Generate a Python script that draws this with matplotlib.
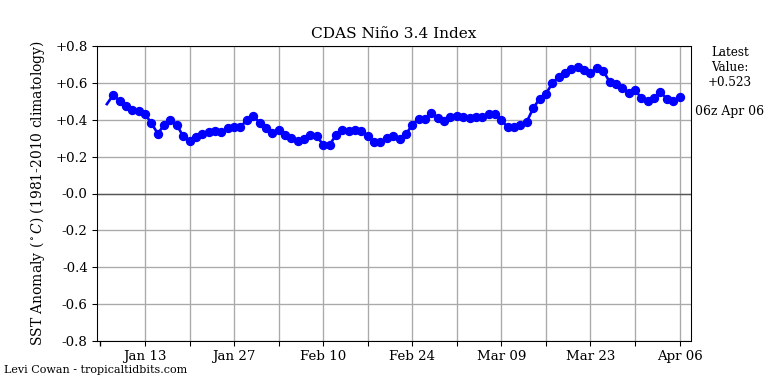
import matplotlib
matplotlib.use("Agg")
import matplotlib.pyplot as plt
import matplotlib.dates as mdates
import numpy as np
import datetime as dt

plt.rcParams['font.family'] = ['DejaVu Serif']
plt.rcParams['mathtext.fontset'] = 'dejavuserif'

start_date = "2024-01-07"
values = [0.485,
          0.534, 0.503, 0.474, 0.453, 0.446, 0.431, 0.381, 0.325, 0.371, 0.398,
          0.371, 0.310, 0.283, 0.305, 0.323, 0.332, 0.340, 0.332, 0.354, 0.362,
          0.361, 0.399, 0.422, 0.384,
          0.354, 0.327, 0.344, 0.318, 0.299, 0.285, 0.294, 0.315, 0.311, 0.264,
          0.264, 0.316, 0.347, 0.340, 0.344, 0.339, 0.312, 0.279, 0.279, 0.299,
          0.310, 0.295, 0.322, 0.372, 0.404, 0.405, 0.438, 0.411, 0.391,
          0.413, 0.420, 0.413, 0.408, 0.413, 0.413, 0.433, 0.431, 0.399, 0.359,
          0.359, 0.371, 0.390, 0.462, 0.514, 0.540, 0.598, 0.633, 0.653, 0.673,
          0.688, 0.670, 0.653, 0.682, 0.666, 0.606, 0.594, 0.574, 0.544, 0.561,
          0.518,
          0.500, 0.516, 0.550, 0.514, 0.501, 0.523]
ytick_values = [0.8, 0.6, 0.4, 0.2, 0.0, -0.2, -0.4, -0.6, -0.8]
ytick_labels = ["+0.8", "+0.6", "+0.4", "+0.2", "-0.0", "-0.2", "-0.4", "-0.6", "-0.8"]
xtick_labels = ["Jan 13", "Jan 27", "Feb 10", "Feb 24", "Mar 09", "Mar 23", "Apr 06"]
latest_value = "+0.523"
latest_time = "06z Apr 06"

d0 = dt.datetime.strptime(start_date, "%Y-%m-%d")
dates = [d0 + dt.timedelta(days=i) for i in range(len(values))]

fig = plt.figure(figsize=(8, 4), dpi=96)
ax = fig.add_axes([97/768, 43/384, (691-97)/768, (341-46)/384])

ax.axhline(0, color='#555555', lw=1.0, zorder=2)
ax.plot(dates, values, color='#0000ff', lw=2.0, marker='o', markersize=6,
        markevery=list(range(1, len(values))), zorder=3)

ax.set_ylim(-0.8, 0.8)
ax.set_yticks(ytick_values)
ax.set_yticklabels(ytick_labels)

t_first = dt.datetime(2024, 1, 13)
major = [t_first + dt.timedelta(days=7*i) for i in range(13)]
ax.set_xticks(major)
ax.set_xticklabels([xtick_labels[i//2] if i % 2 == 0 else "" for i in range(13)])
ax.set_xticks([t_first - dt.timedelta(days=7)], minor=True)
ax.tick_params(axis='x', which='minor', length=3.5, width=1)
ax.set_xlim(d0 - dt.timedelta(days=1.55), dates[-1] + dt.timedelta(days=1.8))

ax.grid(True, which='major', color='#aaaaaa', lw=1.0, zorder=1)
ax.tick_params(labelsize=10)
ax.set_title("CDAS Niño 3.4 Index", fontsize=11.5)
ax.set_ylabel(r"SST Anomaly ($^\circ C$) (1981-2010 climatology)", fontsize=10.4,
              labelpad=6)

fig.text(730/768, 1 - 46/384, "Latest\nValue:\n" + latest_value, ha='center', va='top',
         fontsize=9, linespacing=1.2)
fig.text(730/768, 1 - 111/384, latest_time, ha='center', va='center', fontsize=9.3)
fig.text(4/768, 1 - 370/384, "Levi Cowan - tropicaltidbits.com", ha='left', va='center',
         fontsize=8.3)

fig.savefig("out.png", dpi=96)
